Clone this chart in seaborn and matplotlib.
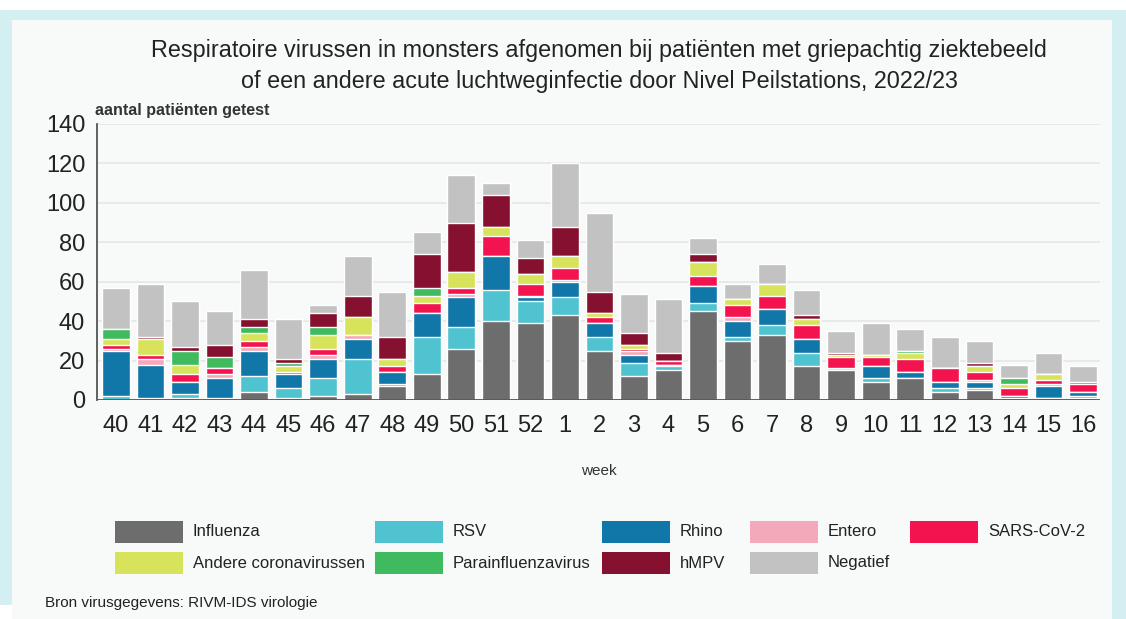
import numpy as np
import pandas as pd
import matplotlib
matplotlib.use('Agg')
import matplotlib.pyplot as plt
import seaborn as sns
from matplotlib.patches import Rectangle

sns.set_style('white')
plt.rcParams['font.family'] = ['Liberation Sans', 'DejaVu Sans']

# Data
weeks = ['40', '41', '42', '43', '44', '45', '46', '47', '48', '49', '50', '51', '52',
         '1', '2', '3', '4', '5', '6', '7', '8', '9', '10', '11', '12', '13', '14', '15', '16']
influenza = [0, 0, 1, 0, 4, 1, 2, 3, 7, 13, 26, 40, 39, 43, 25, 12, 15, 45, 30, 33, 17, 15, 9, 11, 4, 5, 0, 1, 1]
rsv = [2, 1, 2, 1, 8, 5, 9, 18, 1, 19, 11, 16, 11, 9, 7, 7, 2, 4, 2, 5, 7, 0, 2, 0, 2, 1, 1, 0, 1]
rhino = [23, 17, 6, 10, 13, 7, 10, 10, 6, 12, 15, 17, 2, 8, 7, 4, 1, 9, 8, 8, 7, 0, 6, 3, 3, 3, 1, 6, 2]
entero = [1, 3, 0, 2, 2, 0, 2, 2, 0, 0, 2, 0, 1, 1, 0, 2, 0, 0, 2, 0, 0, 1, 0, 0, 0, 1, 0, 1, 0]
sars = [2, 2, 4, 3, 3, 1, 3, 0, 3, 5, 3, 10, 6, 6, 3, 1, 2, 5, 6, 7, 7, 6, 5, 7, 7, 4, 4, 2, 4]
andere = [3, 8, 5, 0, 4, 3, 7, 9, 4, 4, 8, 5, 5, 6, 2, 2, 0, 7, 3, 6, 3, 1, 1, 3, 0, 3, 2, 3, 0]
parainfluenza = [5, 0, 7, 6, 3, 2, 4, 0, 0, 4, 0, 0, 0, 0, 0, 0, 0, 0, 0, 0, 0, 0, 0, 1, 0, 0, 3, 0, 0]
hmpv = [0, 1, 2, 6, 4, 2, 7, 11, 11, 17, 25, 16, 8, 15, 11, 6, 4, 4, 0, 0, 2, 1, 0, 0, 0, 2, 0, 0, 1]
negatief = [21, 27, 23, 17, 25, 20, 4, 20, 23, 11, 24, 6, 9, 32, 40, 20, 27, 8, 8, 10, 13, 11, 16, 11, 16, 11, 7, 11, 8]

series_names = ['Influenza', 'RSV', 'Rhino', 'Entero', 'SARS-CoV-2',
                'Andere coronavirussen', 'Parainfluenzavirus', 'hMPV', 'Negatief']
series_values = [influenza, rsv, rhino, entero, sars, andere, parainfluenza, hmpv, negatief]
colors = ['#6d6d6d', '#4fc3cf', '#1176a8', '#f4a9bb', '#f2134f',
          '#d8e35c', '#3fba5e', '#86102f', '#c2c2c2']

df = pd.DataFrame(dict(zip(series_names, series_values)))
df['week'] = weeks
cum = df[series_names].cumsum(axis=1)

W, H = 1126, 619
fig = plt.figure(figsize=(W / 100, H / 100), dpi=100)
fig.patch.set_facecolor('#f8f9f9')


def px_rect(x0, y0, x1, y1, color, z=0):
    # rectangle given in picture pixels (top-left origin)
    fig.add_artist(Rectangle((x0 / W, 1 - y1 / H), (x1 - x0) / W, (y1 - y0) / H,
                             transform=fig.transFigure, facecolor=color,
                             edgecolor='none', zorder=z))


# screenshot frame
px_rect(0, 0, W, 10, 'white')
px_rect(0, 10, W, 20, '#d3eff1')
px_rect(0, 10, 12, 605, '#d3eff1')
px_rect(1112, 10, W, H, '#d3eff1')
px_rect(0, 605, 12, H, 'white')

ax = fig.add_axes([0.0861, 0.3538, 0.891, 0.4459])
ax.set_facecolor('#f8f9f9')

# stacked bars: draw cumulative totals from top layer down
for name, col in reversed(list(zip(series_names, colors))):
    sns.barplot(x=df['week'], y=cum[name], color=col, width=0.8,
                saturation=1, ax=ax, zorder=3)

ax.set_ylim(0, 140)
ax.set_xlim(-0.55, 28.5)
ax.set_yticks(np.arange(0, 141, 20))
ax.yaxis.grid(True, color='#e6e6e6', linewidth=1.2, zorder=0)
ax.xaxis.grid(False)
for s in ['top', 'right', 'bottom']:
    ax.spines[s].set_visible(False)
ax.spines['left'].set_color('#555555')
ax.spines['left'].set_linewidth(1.3)
ax.axhline(0, color='#555555', linewidth=1.3, zorder=4)
ax.tick_params(axis='both', labelsize=17, colors='#333333', length=5, width=1.2)
ax.tick_params(axis='y', labelcolor='#222222')
ax.tick_params(axis='x', labelcolor='#222222', pad=6)
ax.set_xlabel('week', fontsize=11, color='#333333', labelpad=19)
ax.set_ylabel('')

fig.text(0.0845, 1 - 110 / H, 'aantal patiënten getest', fontsize=11.5, fontweight='bold',
         color='#333333', va='center')
fig.text(0.532, 1 - 66 / H, 'Respiratoire virussen in monsters afgenomen bij patiënten met griepachtig ziektebeeld\n'
         'of een andere acute luchtweginfectie door Nivel Peilstations, 2022/23',
         ha='center', va='center', fontsize=16.8, color='#222222', linespacing=1.45)

# legend laid out like the reference (two rows, five columns)
col_x = [115, 375, 602, 750, 910]
row_y = [532, 563]
for k, name in enumerate(series_names):
    r, c = divmod(k, 5)
    x0, yc = col_x[c], row_y[r]
    px_rect(x0, yc - 11, x0 + 68, yc + 11, colors[k], z=2)
    fig.text((x0 + 78) / W, 1 - yc / H, name, fontsize=12,
             color='#222222', va='center', ha='left')

fig.text(45 / W, 1 - 603 / H, 'Bron virusgegevens: RIVM-IDS virologie', fontsize=11,
         color='#222222', va='center')

fig.savefig('out.png', dpi=100, facecolor=fig.get_facecolor())
